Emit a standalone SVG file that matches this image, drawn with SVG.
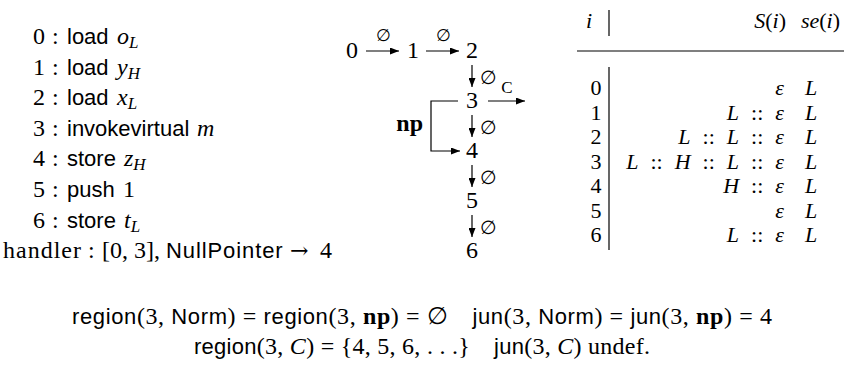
<svg xmlns="http://www.w3.org/2000/svg" width="844" height="375" viewBox="0 0 844 375">
<style>
text{font-family:"Liberation Serif",serif;font-size:24px;fill:#000}
.s{font-family:"Liberation Sans",sans-serif;font-size:22px}
.i{font-style:italic}
.b{font-weight:bold}
.sub{font-size:17px;font-style:italic}
.lab{font-size:17px}
.lab2{font-size:19px}
.t{font-size:22px}
.arr{font-family:"DejaVu Serif",serif;font-size:22px}
line,path.c{stroke:#000;stroke-width:1.2;fill:none}
.rule{stroke:#000;stroke-width:1.2}
</style>
<defs>
<marker id="ah" markerUnits="userSpaceOnUse" markerWidth="9" markerHeight="7" refX="9" refY="3.5" orient="auto">
<path d="M0,0 L9,3.5 L0,7 z" fill="#000"/>
</marker>
</defs>
<rect width="844" height="375" fill="#fff"/>

<g id="code">
<text y="44"><tspan x="33">0</tspan><tspan x="52">:</tspan><tspan x="67" class="s">load</tspan><tspan x="117" class="i">o</tspan><tspan class="sub" dy="4">L</tspan></text>
<text y="75"><tspan x="33">1</tspan><tspan x="52">:</tspan><tspan x="67" class="s">load</tspan><tspan x="117" class="i">y</tspan><tspan class="sub" dy="4">H</tspan></text>
<text y="105"><tspan x="33">2</tspan><tspan x="52">:</tspan><tspan x="67" class="s">load</tspan><tspan x="117" class="i">x</tspan><tspan class="sub" dy="4">L</tspan></text>
<text y="136"><tspan x="33">3</tspan><tspan x="52">:</tspan><tspan x="67" class="s">invokevirtual</tspan><tspan x="197" class="i">m</tspan></text>
<text y="166"><tspan x="33">4</tspan><tspan x="52">:</tspan><tspan x="67" class="s">store</tspan><tspan x="124" class="i">z</tspan><tspan class="sub" dy="4">H</tspan></text>
<text y="197"><tspan x="33">5</tspan><tspan x="52">:</tspan><tspan x="67" class="s">push</tspan><tspan x="123">1</tspan></text>
<text y="228"><tspan x="33">6</tspan><tspan x="52">:</tspan><tspan x="67" class="s">store</tspan><tspan x="124" class="i">t</tspan><tspan class="sub" dy="4">L</tspan></text>
<text y="258"><tspan x="3" letter-spacing="1">handler</tspan><tspan x="88">:</tspan><tspan x="102">[0, 3],</tspan><tspan x="166" class="s" letter-spacing="0.9">NullPointer</tspan><tspan x="290" class="arr">→</tspan><tspan x="320">4</tspan></text>
</g>

<g id="n0"><text x="352" y="58" text-anchor="middle">0</text></g>
<g id="n1"><text x="413" y="58" text-anchor="middle">1</text></g>
<g id="n2"><text x="472" y="58" text-anchor="middle">2</text></g>
<g id="n3"><text x="472" y="108" text-anchor="middle">3</text></g>
<g id="n4"><text x="472" y="158" text-anchor="middle">4</text></g>
<g id="n5"><text x="472" y="208" text-anchor="middle">5</text></g>
<g id="n6"><text x="472" y="258" text-anchor="middle">6</text></g>

<g id="connectors">
<line x1="366" y1="51" x2="399" y2="51" marker-end="url(#ah)"/>
<text class="lab" x="383" y="41" text-anchor="middle">∅</text>
<line x1="426" y1="51" x2="459" y2="51" marker-end="url(#ah)"/>
<text class="lab" x="443" y="41" text-anchor="middle">∅</text>
<line x1="472" y1="65" x2="472" y2="87" marker-end="url(#ah)"/>
<text class="lab2" x="480" y="84">∅</text>
<line x1="472" y1="115" x2="472" y2="137" marker-end="url(#ah)"/>
<text class="lab2" x="480" y="134">∅</text>
<line x1="472" y1="165" x2="472" y2="187" marker-end="url(#ah)"/>
<text class="lab2" x="480" y="184">∅</text>
<line x1="472" y1="215" x2="472" y2="237" marker-end="url(#ah)"/>
<text class="lab2" x="480" y="234">∅</text>
<line x1="488" y1="101" x2="525" y2="101" marker-end="url(#ah)"/>
<text class="lab" x="507" y="93" text-anchor="middle">C</text>
<path class="c" d="M458,101 H431 V151 H460" marker-end="url(#ah)"/>
<text class="b" x="423" y="131" text-anchor="end">np</text>
</g>

<g id="table">
<text class="t i" x="589" y="28" text-anchor="middle">i</text>
<text class="t" x="786" y="28" text-anchor="end"><tspan class="i">S</tspan>(<tspan class="i">i</tspan>)</text>
<text class="t" x="840" y="28" text-anchor="end"><tspan class="i">se</tspan>(<tspan class="i">i</tspan>)</text>
<line class="rule" x1="609" y1="10" x2="609" y2="36"/>
<line class="rule" x1="577" y1="51" x2="844" y2="51"/>
<line class="rule" x1="609" y1="67" x2="609" y2="250"/>
<text class="t" x="596" y="95" text-anchor="middle">0</text>
<text class="t" x="596" y="119.5" text-anchor="middle">1</text>
<text class="t" x="596" y="144" text-anchor="middle">2</text>
<text class="t" x="596" y="168.5" text-anchor="middle">3</text>
<text class="t" x="596" y="193" text-anchor="middle">4</text>
<text class="t" x="596" y="217.5" text-anchor="middle">5</text>
<text class="t" x="596" y="242" text-anchor="middle">6</text>
<text class="t i" x="784" y="95" text-anchor="end">ε</text>
<text class="t" x="784" y="119.5" text-anchor="end"><tspan class="i">L</tspan><tspan dx="12">::</tspan><tspan dx="12" class="i">ε</tspan></text>
<text class="t" x="784" y="144" text-anchor="end"><tspan class="i">L</tspan><tspan dx="12">::</tspan><tspan dx="12" class="i">L</tspan><tspan dx="12">::</tspan><tspan dx="12" class="i">ε</tspan></text>
<text class="t" x="784" y="168.5" text-anchor="end"><tspan class="i">L</tspan><tspan dx="12">::</tspan><tspan dx="12" class="i">H</tspan><tspan dx="12">::</tspan><tspan dx="12" class="i">L</tspan><tspan dx="12">::</tspan><tspan dx="12" class="i">ε</tspan></text>
<text class="t" x="784" y="193" text-anchor="end"><tspan class="i">H</tspan><tspan dx="12">::</tspan><tspan dx="12" class="i">ε</tspan></text>
<text class="t i" x="784" y="217.5" text-anchor="end">ε</text>
<text class="t" x="784" y="242" text-anchor="end"><tspan class="i">L</tspan><tspan dx="12">::</tspan><tspan dx="12" class="i">ε</tspan></text>
<text class="t i" x="811" y="95" text-anchor="middle">L</text>
<text class="t i" x="811" y="119.5" text-anchor="middle">L</text>
<text class="t i" x="811" y="144" text-anchor="middle">L</text>
<text class="t i" x="811" y="168.5" text-anchor="middle">L</text>
<text class="t i" x="811" y="193" text-anchor="middle">L</text>
<text class="t i" x="811" y="217.5" text-anchor="middle">L</text>
<text class="t i" x="811" y="242" text-anchor="middle">L</text>
</g>

<g id="equations">
<text x="422" y="324" text-anchor="middle" textLength="700" lengthAdjust="spacing"><tspan class="s">region</tspan>(3, <tspan class="s">Norm</tspan>) = <tspan class="s">region</tspan>(3, <tspan class="b">np</tspan>) = ∅<tspan dx="24" class="s">jun</tspan>(3, <tspan class="s">Norm</tspan>) = <tspan class="s">jun</tspan>(3, <tspan class="b">np</tspan>) = 4</text>
<text x="422" y="354" text-anchor="middle" textLength="456" lengthAdjust="spacing"><tspan class="s">region</tspan>(3, <tspan class="i">C</tspan>) = {4, 5, 6, . . .}<tspan dx="24" class="s">jun</tspan>(3, <tspan class="i">C</tspan>) undef.</text>
</g>
</svg>
